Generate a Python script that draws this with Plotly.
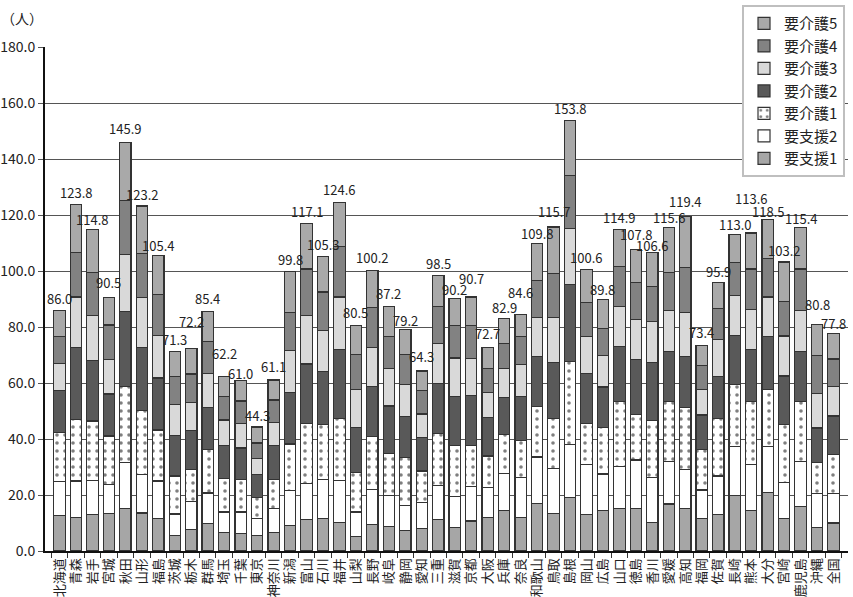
import plotly.graph_objects as go

prefectures = [
    "北海道", "青森", "岩手", "宮城", "秋田", "山形", "福島", "茨城", "栃木", "群馬",
    "埼玉", "千葉", "東京", "神奈川", "新潟", "富山", "石川", "福井", "山梨", "長野",
    "岐阜", "静岡", "愛知", "三重", "滋賀", "京都", "大阪", "兵庫", "奈良", "和歌山",
    "鳥取", "島根", "岡山", "広島", "山口", "徳島", "香川", "愛媛", "高知", "福岡",
    "佐賀", "長崎", "熊本", "大分", "宮崎", "鹿児島", "沖縄", "全国",
]

# 人数（要支援1 〜 要介護5）
shien1 = [12.6, 11.9, 13.1, 13.5, 15.1, 13.6, 11.5, 5.4, 7.7, 9.8,
          6.6, 6.2, 5.6, 6.6, 9.2, 11.3, 11.5, 10.1, 5.3, 9.5,
          8.8, 7.4, 8.0, 11.3, 8.4, 10.7, 12.1, 14.5, 12.1, 17.1,
          13.3, 19.2, 13.1, 14.6, 15.3, 15.3, 10.1, 16.8, 15.3, 11.5,
          12.9, 19.8, 14.5, 20.9, 11.5, 16.0, 8.4, 10.0]
shien2 = [12.2, 13.1, 12.0, 10.3, 16.4, 13.8, 13.5, 7.8, 9.9, 10.9,
          7.3, 7.7, 5.9, 8.5, 12.3, 12.9, 14.1, 15.0, 8.6, 12.4,
          11.0, 8.8, 9.2, 12.0, 11.1, 12.4, 10.6, 13.1, 14.1, 16.5,
          16.2, 18.8, 17.8, 12.9, 14.8, 17.2, 16.1, 15.3, 13.9, 10.3,
          13.9, 17.6, 16.4, 16.5, 13.0, 15.9, 12.0, 10.4]
kaigo1 = [17.6, 22.0, 21.3, 17.3, 27.3, 22.9, 18.2, 13.6, 11.6, 15.5,
          12.1, 11.5, 7.7, 10.5, 16.7, 21.4, 19.5, 22.3, 14.1, 19.0,
          15.0, 17.1, 11.4, 18.8, 18.3, 14.5, 11.2, 13.9, 13.2, 17.9,
          17.9, 29.8, 14.7, 16.6, 23.4, 16.3, 20.3, 21.2, 22.0, 14.4,
          20.6, 22.1, 22.4, 20.2, 20.8, 21.6, 11.1, 14.1]
kaigo2 = [14.9, 25.8, 21.6, 15.0, 26.6, 22.5, 18.6, 14.5, 13.7, 15.1,
          11.8, 11.4, 8.0, 12.0, 18.3, 21.2, 19.0, 24.5, 16.1, 17.9,
          17.0, 14.7, 11.8, 17.7, 17.3, 17.8, 13.7, 13.3, 15.7, 18.0,
          20.0, 27.5, 17.9, 14.5, 19.4, 19.6, 20.7, 18.0, 18.2, 12.4,
          15.0, 17.6, 18.8, 19.0, 17.2, 17.7, 12.4, 13.7]
kaigo3 = [9.8, 17.9, 16.2, 12.4, 20.5, 17.7, 15.3, 11.0, 10.0, 12.0,
          9.0, 8.6, 5.7, 8.3, 15.0, 17.3, 14.7, 18.8, 13.7, 13.9,
          13.3, 11.5, 8.5, 14.4, 13.8, 13.4, 9.0, 10.3, 11.5, 13.8,
          15.9, 19.8, 13.0, 11.2, 14.5, 14.3, 14.9, 14.6, 15.9, 9.0,
          13.2, 14.1, 14.1, 14.1, 14.3, 14.7, 12.3, 10.6]
kaigo4 = [9.4, 15.8, 15.3, 12.2, 19.2, 15.7, 14.5, 10.1, 10.3, 11.6,
          8.3, 8.2, 5.7, 8.0, 13.8, 16.6, 13.7, 18.1, 12.3, 14.4,
          11.4, 10.6, 8.5, 13.0, 11.5, 11.6, 8.5, 9.1, 9.9, 13.2,
          15.9, 19.1, 12.3, 9.6, 14.1, 13.3, 12.4, 13.6, 15.9, 8.6,
          10.9, 11.9, 14.5, 13.8, 12.4, 14.8, 13.6, 9.8]
kaigo5 = [9.5, 17.3, 15.3, 9.8, 20.8, 17.0, 13.8, 8.9, 9.0, 10.5,
          7.1, 7.4, 5.7, 7.2, 14.5, 16.4, 12.8, 15.8, 10.4, 13.1,
          10.7, 9.1, 6.9, 11.3, 9.8, 10.3, 7.6, 8.7, 8.1, 13.3,
          16.5, 19.6, 11.8, 10.4, 13.4, 11.8, 12.1, 16.1, 18.2, 7.2,
          9.4, 9.9, 12.9, 14.0, 14.0, 14.7, 11.0, 9.2]

totals = [86.0, 123.8, 114.8, 90.5, 145.9, 123.2, 105.4, 71.3, 72.2, 85.4,
          62.2, 61.0, 44.3, 61.1, 99.8, 117.1, 105.3, 124.6, 80.5, 100.2,
          87.2, 79.2, 64.3, 98.5, 90.2, 90.7, 72.7, 82.9, 84.6, 109.8,
          115.7, 153.8, 100.6, 89.8, 114.9, 107.8, 106.6, 115.6, 119.4, 73.4,
          95.9, 113.0, 113.6, 118.5, 103.2, 115.4, 80.8, 77.8]

# 合計ラベルを棒の上端から持ち上げる量（px）。隣と重ならないよう個別に調整
label_lift = [12, 12, 10, 15, 14, 12, 10, 12, 27, 13,
              23, 7, 11, 13, 12, 12, 12, 13, 13, 13,
              13, 9, 14, 12, 9, 19, 14, 11, 22, 10,
              16, 12, 12, 10, 12, 15, 7, 10, 15, 13,
              11, 10, 34, 8, 12, 9, 20, 10]

series = [
    ("要支援1", shien1, "#a6a6a6", None),
    ("要支援2", shien2, "#ffffff", None),
    ("要介護1", kaigo1, "#ffffff", "."),
    ("要介護2", kaigo2, "#595959", None),
    ("要介護3", kaigo3, "#d9d9d9", None),
    ("要介護4", kaigo4, "#828282", None),
    ("要介護5", kaigo5, "#a9a9a9", None),
]

FONT = "Noto Sans CJK JP"

fig = go.Figure()
for i, (name, vals, color, pattern) in enumerate(series):
    marker = dict(color=color, line=dict(color="#333333", width=1.2))
    if pattern:
        marker["pattern"] = dict(shape=pattern, fgcolor="#000000", bgcolor="#ffffff",
                                 size=8, solidity=0.16, fillmode="overlay")
    fig.add_trace(go.Bar(x=prefectures, y=vals, name=name, marker=marker,
                         legendgroup=f"g{i}"))

annotations = [dict(
    x=p, y=t, xref="x", yref="y", text=f"{t:.1f}", showarrow=False,
    yanchor="middle", yshift=lift,
    font=dict(family=FONT, size=13, color="#222222"),
) for p, t, lift in zip(prefectures, totals, label_lift)]

annotations.append(dict(
    text="（人）", xref="paper", yref="paper", x=-0.057, y=1.057,
    xanchor="left", yanchor="middle", showarrow=False,
    font=dict(family=FONT, size=14, color="#222222"),
))

fig.update_layout(
    width=853, height=597,
    margin=dict(l=45, r=5, t=43, b=46),
    paper_bgcolor="white", plot_bgcolor="white",
    barmode="stack", bargap=0.31,
    font=dict(family=FONT, size=13, color="#222222"),
    legend=dict(
        x=0.868, y=1.083, xanchor="left", yanchor="top",
        traceorder="reversed", tracegroupgap=5,
        bordercolor="#bfbfbf", borderwidth=2, bgcolor="white",
        font=dict(family=FONT, size=15, color="#222222"),
        itemwidth=30,
    ),
    annotations=annotations,
)

fig.update_yaxes(
    range=[0, 180], dtick=20, tickformat=".1f", automargin=False,
    showgrid=True, gridcolor="#555555", gridwidth=1,
    showline=True, linecolor="#111111", linewidth=2,
    ticks="outside", ticklen=5, tickcolor="#555555",
    tickfont=dict(family=FONT, size=14, color="#222222"),
    zeroline=False,
)
fig.update_xaxes(
    tickangle=-90, automargin=False,
    showline=True, linecolor="#111111", linewidth=2,
    ticks="outside", ticklen=5, tickcolor="#333333", tickson="boundaries",
    tickfont=dict(family=FONT, size=13, color="#222222"),
    showgrid=False,
)

fig.write_html("out.html")
